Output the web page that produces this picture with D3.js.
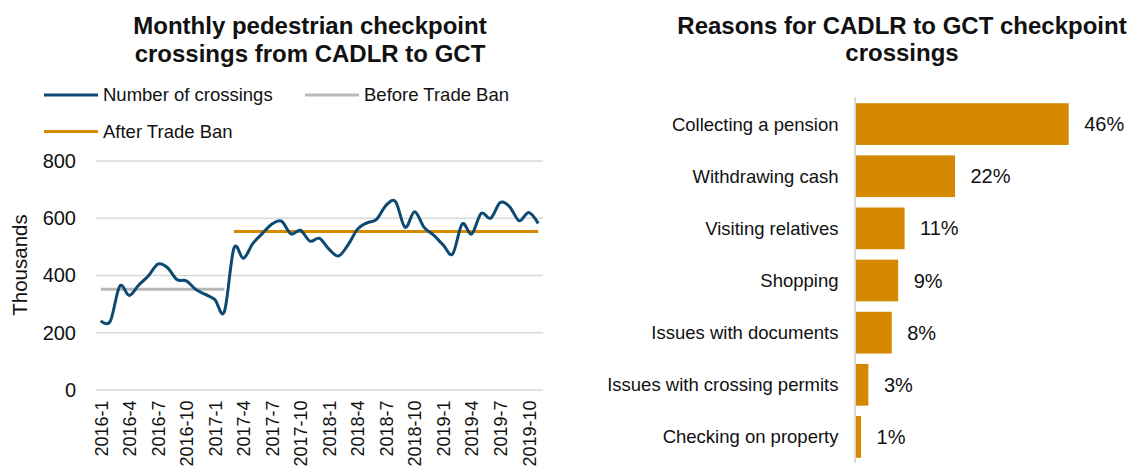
<!DOCTYPE html>
<html>
<head>
<meta charset="utf-8">
<script src="https://cdn.jsdelivr.net/npm/d3@7"></script>
<style>
  body { margin: 0; background: #fff; }
  svg { font-family: "Liberation Sans", Arial, sans-serif; }
</style>
</head>
<body>
<svg></svg>
<script>
// Monthly crossings (thousands) and reasons for crossing

var months = ["2016-1", "2016-2", "2016-3", "2016-4", "2016-5", "2016-6", "2016-7", "2016-8",
  "2016-9", "2016-10", "2016-11", "2016-12", "2017-1", "2017-2", "2017-3", "2017-4",
  "2017-5", "2017-6", "2017-7", "2017-8", "2017-9", "2017-10", "2017-11", "2017-12",
  "2018-1", "2018-2", "2018-3", "2018-4", "2018-5", "2018-6", "2018-7", "2018-8",
  "2018-9", "2018-10", "2018-11", "2018-12", "2019-1", "2019-2", "2019-3", "2019-4",
  "2019-5", "2019-6", "2019-7", "2019-8", "2019-9", "2019-10", "2019-11"];

var crossings = [242, 240, 363, 330, 367, 398, 440, 428, 386, 381, 351, 334, 316, 274, 495, 460,
  512, 547, 580, 590, 545, 558, 520, 530, 492, 468, 507, 562, 584, 596, 645, 658,
  568, 623, 568, 541, 507, 475, 580, 545, 617, 600, 655, 640, 591, 620, 582];

var monthTicks = ["2016-1", "2016-4", "2016-7", "2016-10", "2017-1", "2017-4", "2017-7", "2017-10",
  "2018-1", "2018-4", "2018-7", "2018-10", "2019-1", "2019-4", "2019-7", "2019-10"];

var yTicks = [0, 200, 400, 600, 800];

var beforeBanMonths = months.slice(0, 14);   // 2016-1 .. 2017-2
var afterBanMonths = months.slice(14);       // 2017-3 .. 2019-11
var beforeBanAvg = 352;
var afterBanAvg = 554;

var reasons = ["Collecting a pension", "Withdrawing cash", "Visiting relatives", "Shopping",
  "Issues with documents", "Issues with crossing permits", "Checking on property"];
var reasonShares = [46.4, 21.6, 10.6, 9.2, 7.8, 2.7, 1.1];

var blue = "#0d4a73", grey = "#b8b8b8", orange = "#d68a00", barColor = "#d58900";
var gridColor = "#d9d9d9", textColor = "#111";

var svg = d3.select("svg")
    .attr("width", 1134)
    .attr("height", 469);

// ---------- left: line chart ----------

svg.append("text")
    .attr("x", 310).attr("y", 34)
    .attr("text-anchor", "middle")
    .attr("font-size", 24).attr("font-weight", "bold").attr("fill", textColor)
    .selectAll("tspan")
    .data(["Monthly pedestrian checkpoint", "crossings from CADLR to GCT"])
    .enter().append("tspan")
    .attr("x", 310)
    .attr("dy", function (d, i) { return i ? 27.7 : 0; })
    .text(function (d) { return d; });

var x = d3.scalePoint()
    .domain(months)
    .range([96, 543])
    .padding(0.5);

var y = d3.scaleLinear()
    .domain([0, 800])
    .range([390, 161]);

// gridlines
svg.append("g")
    .selectAll("line")
    .data(yTicks)
    .enter().append("line")
    .attr("x1", 96).attr("x2", 543)
    .attr("y1", function (d) { return y(d); })
    .attr("y2", function (d) { return y(d); })
    .attr("stroke", gridColor)
    .attr("stroke-width", 1.5);

var yAxis = svg.append("g")
    .attr("transform", "translate(80,0)")
    .call(d3.axisLeft(y).tickValues(yTicks).tickSize(0).tickPadding(4));
yAxis.select(".domain").remove();
yAxis.selectAll("text")
    .attr("font-size", 20).attr("fill", textColor)
    .attr("font-family", "Liberation Sans, Arial, sans-serif");

svg.append("text")
    .attr("transform", "translate(27,265) rotate(-90)")
    .attr("text-anchor", "middle")
    .attr("font-size", 20.5).attr("fill", textColor)
    .text("Thousands");

var xAxis = svg.append("g")
    .attr("transform", "translate(0,390)")
    .call(d3.axisBottom(x).tickValues(monthTicks).tickSize(0));
xAxis.select(".domain").remove();
xAxis.selectAll("text")
    .attr("font-size", 18).attr("fill", textColor)
    .attr("font-family", "Liberation Sans, Arial, sans-serif")
    .attr("text-anchor", "end")
    .attr("transform", "rotate(-90)")
    .attr("x", -10.5)
    .attr("y", 0)
    .attr("dy", "0.35em");

var line = d3.line()
    .x(function (d) { return x(d.m); })
    .y(function (d) { return y(d.v); });

svg.append("path")
    .datum(beforeBanMonths.map(function (m) { return { m: m, v: beforeBanAvg }; }))
    .attr("d", line)
    .attr("fill", "none").attr("stroke", grey).attr("stroke-width", 3);

svg.append("path")
    .datum(afterBanMonths.map(function (m) { return { m: m, v: afterBanAvg }; }))
    .attr("d", line)
    .attr("fill", "none").attr("stroke", orange).attr("stroke-width", 3);

svg.append("path")
    .datum(months.map(function (m, i) { return { m: m, v: crossings[i] }; }))
    .attr("d", line.curve(d3.curveCardinal.tension(0)))
    .attr("fill", "none").attr("stroke", blue).attr("stroke-width", 3)
    .attr("stroke-linejoin", "round");

// legend
var legendItems = [
  { name: "Number of crossings", color: blue, x: 44, y: 95 },
  { name: "Before Trade Ban", color: grey, x: 305, y: 95 },
  { name: "After Trade Ban", color: orange, x: 44, y: 131.5 }
];

var legend = svg.selectAll(".legend")
    .data(legendItems)
    .enter().append("g")
    .attr("transform", function (d) { return "translate(" + d.x + "," + d.y + ")"; });

legend.append("line")
    .attr("x1", 0).attr("x2", 54)
    .attr("stroke", function (d) { return d.color; })
    .attr("stroke-width", 3);

legend.append("text")
    .attr("x", 59).attr("dy", "0.35em")
    .attr("font-size", 18.5).attr("fill", textColor)
    .text(function (d) { return d.name; });

// ---------- right: bar chart ----------

svg.append("text")
    .attr("x", 902).attr("y", 33.5)
    .attr("text-anchor", "middle")
    .attr("font-size", 24).attr("font-weight", "bold").attr("fill", textColor)
    .selectAll("tspan")
    .data(["Reasons for CADLR to GCT checkpoint", "crossings"])
    .enter().append("tspan")
    .attr("x", 902)
    .attr("dy", function (d, i) { return i ? 27.5 : 0; })
    .text(function (d) { return d; });

var bx = d3.scaleLinear()
    .domain([0, 50])
    .range([856, 1085.2]);

var by = d3.scaleBand()
    .domain(reasons)
    .range([98, 463])
    .paddingInner(0.2)
    .paddingOuter(0.1);

svg.selectAll(".bar")
    .data(reasonShares)
    .enter().append("rect")
    .attr("x", bx(0))
    .attr("y", function (d, i) { return by(reasons[i]); })
    .attr("width", function (d) { return bx(d) - bx(0); })
    .attr("height", by.bandwidth())
    .attr("fill", barColor);

svg.append("line")
    .attr("x1", 855).attr("x2", 855)
    .attr("y1", 97).attr("y2", 463)
    .attr("stroke", gridColor).attr("stroke-width", 2);

svg.selectAll(".cat")
    .data(reasons)
    .enter().append("text")
    .attr("x", 838.5)
    .attr("y", function (d) { return by(d) + by.bandwidth() / 2; })
    .attr("dy", "0.35em")
    .attr("text-anchor", "end")
    .attr("font-size", 18.5).attr("fill", textColor)
    .text(function (d) { return d; });

svg.selectAll(".val")
    .data(reasonShares)
    .enter().append("text")
    .attr("x", function (d) { return bx(d) + 15.5; })
    .attr("y", function (d, i) { return by(reasons[i]) + by.bandwidth() / 2; })
    .attr("dy", "0.35em")
    .attr("font-size", 20).attr("fill", textColor)
    .text(function (d) { return Math.round(d) + "%"; });
</script>
</body>
</html>
